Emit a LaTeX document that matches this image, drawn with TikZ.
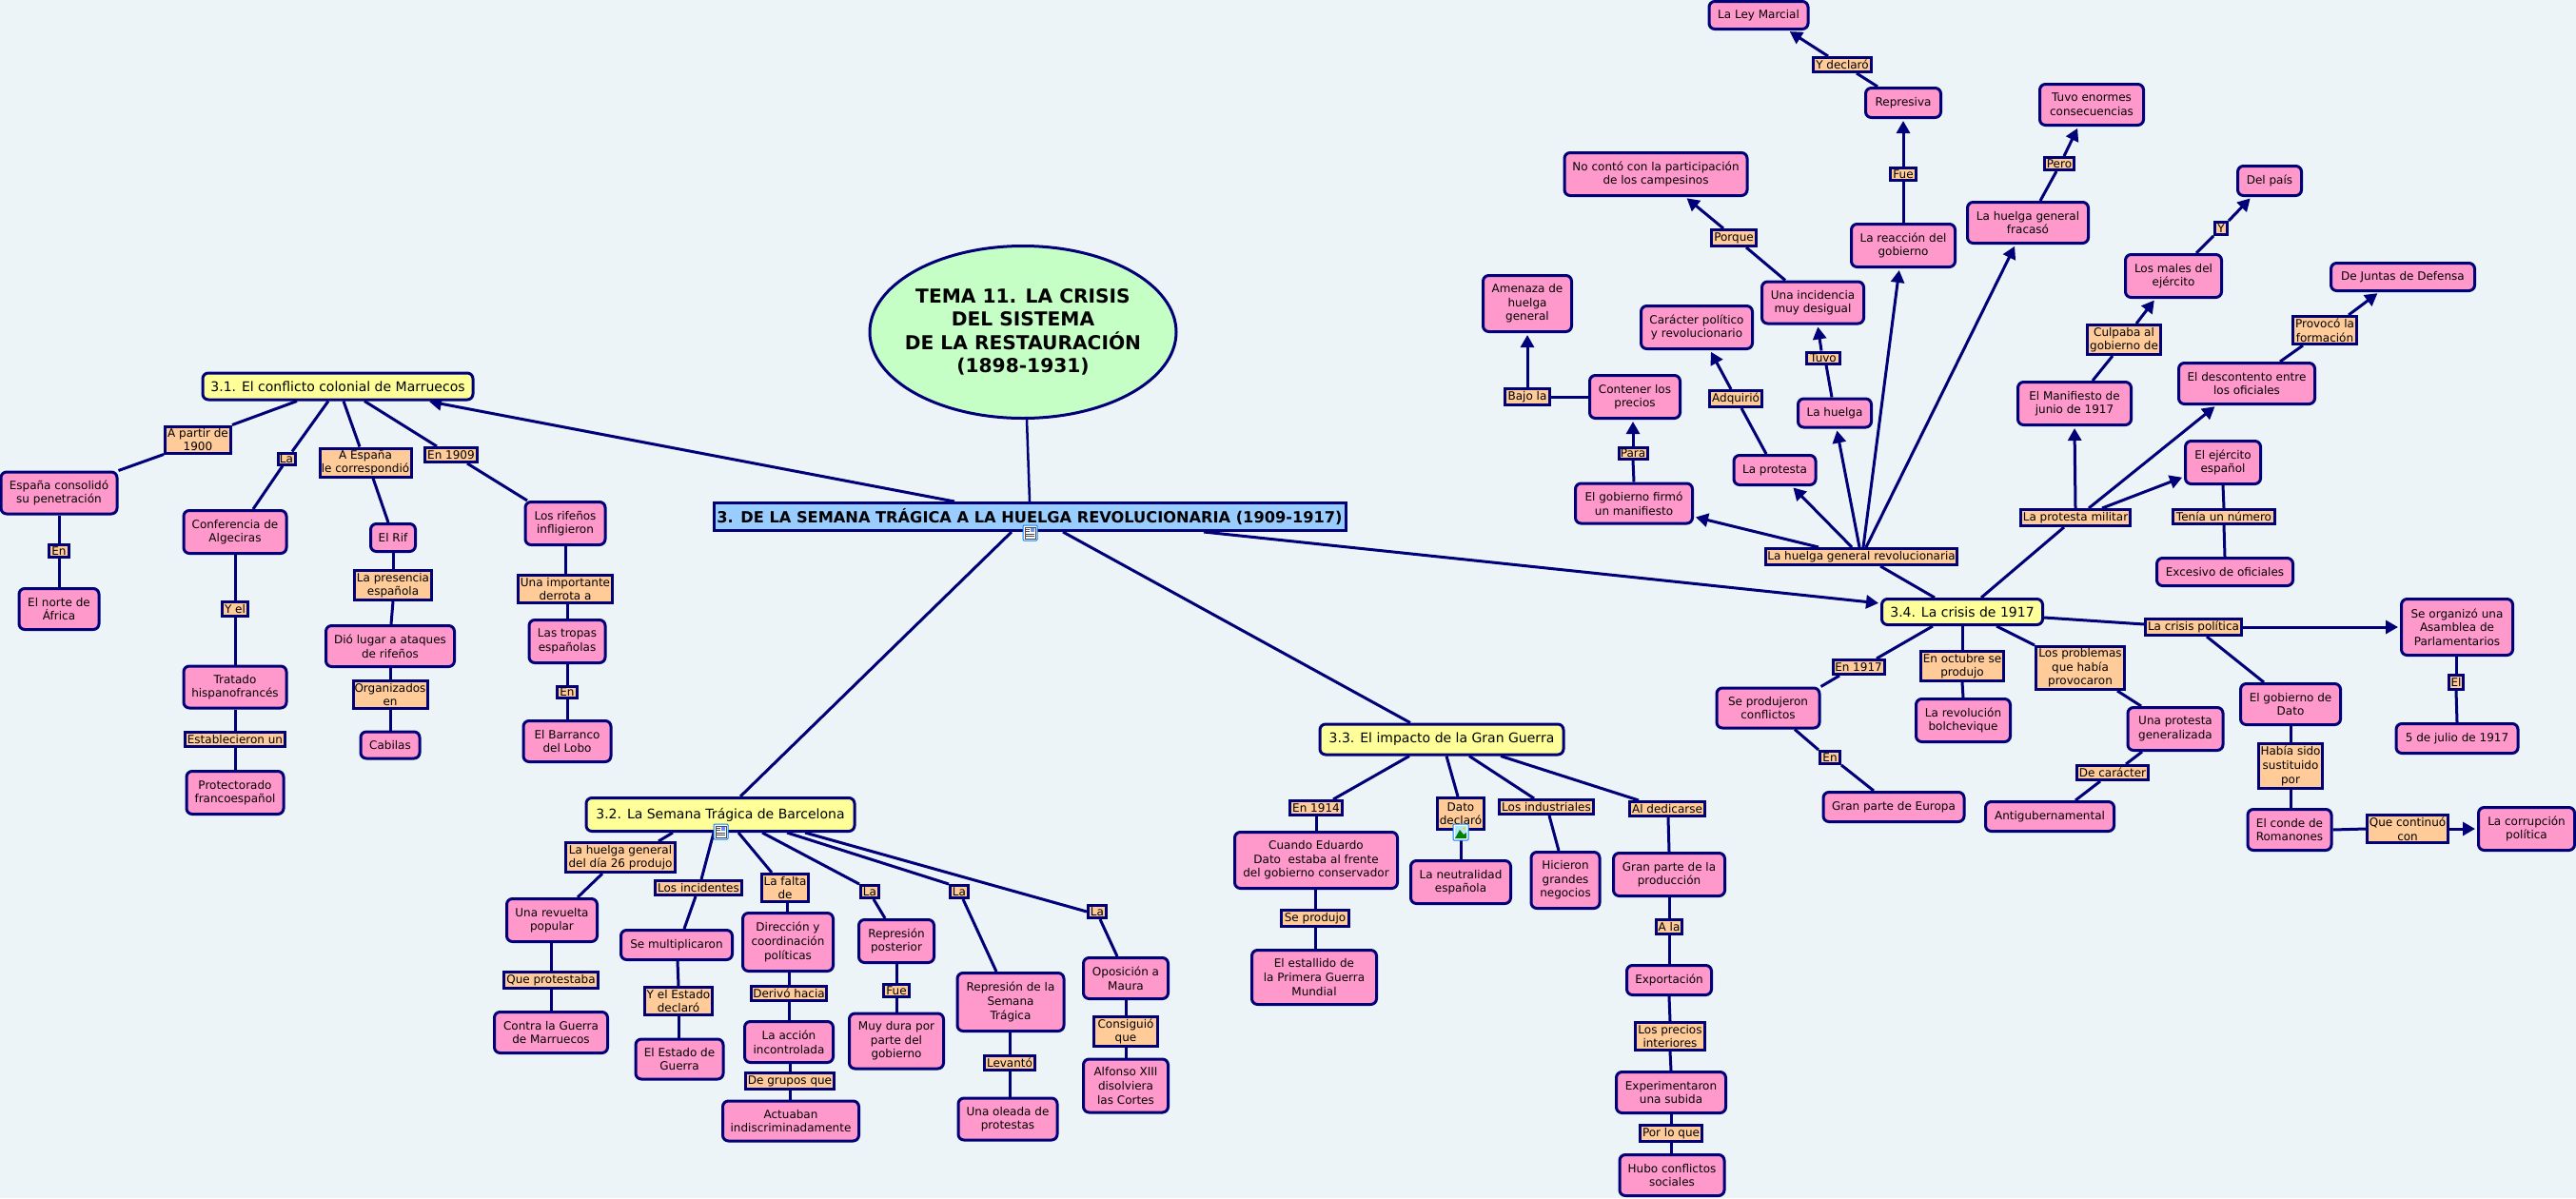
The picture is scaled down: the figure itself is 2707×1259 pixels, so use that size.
\documentclass[tikz,border=0pt]{standalone}
\usepackage{fontspec}
\setmainfont{DejaVu Sans}
\usetikzlibrary{arrows.meta,shapes.geometric,backgrounds}
\definecolor{nv}{HTML}{000078}
\definecolor{bgc}{HTML}{EDF4F8}
\definecolor{pk}{HTML}{FF99CC}
\definecolor{og}{HTML}{FFCC99}
\definecolor{yl}{HTML}{FFFF99}
\definecolor{gn}{HTML}{C6FFC6}
\definecolor{bl}{HTML}{99CCFF}
\tikzset{
 sz/.style 2 args={minimum width={(#1-3)*1pt},minimum height={(#2-3)*1pt}},
 base/.style={draw=nv,line width=3pt,inner sep=0pt,align=center,text=black},
 pkn/.style={base,rectangle,rounded corners=6pt,fill=pk,font=\fontsize{12pt}{14.6pt}\selectfont},
 ogn/.style={base,rectangle,fill=og,font=\fontsize{12pt}{14.6pt}\selectfont},
 yln/.style={base,rectangle,rounded corners=6pt,fill=yl,font=\fontsize{14pt}{17pt}\selectfont},
 lk/.style={draw=nv,line width=3pt},
 ar/.style={lk,-{Triangle[length=13pt,width=14pt]},shorten >=2pt},
 icon/.style={draw=blue!50!cyan,line width=1pt,fill=white,rounded corners=1pt},
}
\begin{document}
\begin{tikzpicture}[x=1pt,y=-1pt]
\useasboundingbox (0,0) rectangle (2707,1259);
\begin{pgfonlayer}{background}
\fill[bgc] (0,0) rectangle (2707,1259);
\end{pgfonlayer}
% root
\node[base,ellipse,fill=gn,line width=3pt,inner sep=-20pt,minimum width=322pt,minimum height=181pt,font=\bfseries\fontsize{20.2pt}{24.4pt}\selectfont] (root) at (1075,349) {TEMA 11. LA CRISIS\\DEL SISTEMA\\DE LA RESTAURACIÓN\\(1898-1931)};
\node[base,rectangle,fill=bl,font=\bfseries\fontsize{16.2pt}{19pt}\selectfont,sz={667}{32}] (main) at (1082,543) {3. DE LA SEMANA TRÁGICA A LA HUELGA REVOLUCIONARIA (1909-1917)};
% 3.1
\node[yln,sz={287}{31}] (s31) at (355,406) {3.1. El conflicto colonial de Marruecos};
\node[ogn,sz={72}{31}] (ap) at (208,462) {A partir de\\1900};
\node[pkn,sz={125}{47}] (esp) at (62,518) {España consolidó\\su penetración};
\node[ogn,sz={21}{15}] (la0) at (301,482) {La};
\node[ogn,sz={99}{33}] (aes) at (384,486) {A España\\le correspondió};
\node[ogn,sz={58}{18}] (en09) at (474,478) {En 1909};
\node[pkn,sz={111}{48}] (conf) at (247,559) {Conferencia de\\Algeciras};
\node[pkn,sz={50}{32}] (rif) at (413,565) {El Rif};
\node[pkn,sz={87}{48}] (rifen) at (594,550) {Los rifeños\\infligieron};
\node[ogn,sz={24}{16}] (en1) at (62,579) {En};
\node[pkn,sz={87}{46}] (norte) at (62,640) {El norte de\\África};
\node[ogn,sz={84}{34}] (pres) at (413,615) {La presencia\\española};
\node[ogn,sz={102}{32}] (uimp) at (594,619) {Una importante\\derrota a};
\node[ogn,sz={30}{18}] (yel) at (247,640) {Y el};
\node[pkn,sz={83}{48}] (trop) at (596,674) {Las tropas\\españolas};
\node[pkn,sz={138}{46}] (dio) at (410,679) {Dió lugar a ataques\\de rifeños};
\node[pkn,sz={111}{47}] (trat) at (247,722) {Tratado\\hispanofrancés};
\node[ogn,sz={81}{32}] (org) at (410,730) {Organizados\\en};
\node[ogn,sz={24}{15}] (en2) at (596,727) {En};
\node[pkn,sz={65}{31}] (cab) at (410,783) {Cabilas};
\node[pkn,sz={95}{46}] (barr) at (596,779) {El Barranco\\del Lobo};
\node[ogn,sz={108}{18}] (est) at (247,777) {Establecieron un};
\node[pkn,sz={105}{48}] (prot) at (247,833) {Protectorado\\francoespañol};
% 3.2
\node[yln,sz={285}{38}] (s32) at (757,856) {3.2. La Semana Trágica de Barcelona};
\node[ogn,sz={118}{34}] (lh26) at (652,901) {La huelga general\\del día 26 produjo};
\node[ogn,sz={94}{18}] (inc) at (734,933) {Los incidentes};
\node[ogn,sz={52}{32}] (falta) at (825,933) {La falta\\de};
\node[ogn,sz={22}{16}] (la1) at (914,937) {La};
\node[ogn,sz={22}{16}] (la2) at (1008,937) {La};
\node[ogn,sz={22}{16}] (la3) at (1153,958) {La};
\node[pkn,sz={98}{48}] (rev) at (580,967) {Una revuelta\\popular};
\node[pkn,sz={120}{34}] (mult) at (711,993) {Se multiplicaron};
\node[pkn,sz={98}{64}] (dir) at (828,990) {Dirección y\\coordinación\\políticas};
\node[pkn,sz={82}{48}] (repp) at (942,989) {Represión\\posterior};
\node[pkn,sz={92}{46}] (opo) at (1183,1028) {Oposición a\\Maura};
\node[pkn,sz={115}{64}] (rst) at (1062,1053) {Represión de la\\Semana\\Trágica};
\node[ogn,sz={102}{20}] (qpr) at (579,1030) {Que protestaba};
\node[ogn,sz={82}{18}] (der) at (829,1044) {Derivó hacia};
\node[ogn,sz={74}{32}] (yest) at (713,1052) {Y el Estado\\declaró};
\node[ogn,sz={30}{16}] (fue1) at (942,1041) {Fue};
\node[pkn,sz={122}{46}] (contra) at (579,1085) {Contra la Guerra\\de Marruecos};
\node[pkn,sz={96}{46}] (acc) at (829,1095) {La acción\\incontrolada};
\node[pkn,sz={102}{61}] (muy) at (942,1094) {Muy dura por\\parte del\\gobierno};
\node[ogn,sz={70}{34}] (cons) at (1183,1084) {Consiguió\\que};
\node[ogn,sz={56}{18}] (lev) at (1061,1117) {Levantó};
\node[pkn,sz={95}{45}] (edg) at (714,1113) {El Estado de\\Guerra};
\node[ogn,sz={96}{20}] (dgq) at (830,1136) {De grupos que};
\node[pkn,sz={92}{59}] (alf) at (1183,1141) {Alfonso XIII\\disolviera\\las Cortes};
\node[pkn,sz={146}{45}] (act) at (831,1178) {Actuaban\\indiscriminadamente};
\node[pkn,sz={107}{47}] (ola) at (1059,1176) {Una oleada de\\protestas};
% 3.3
\node[yln,sz={259}{35}] (s33) at (1515,777) {3.3. El impacto de la Gran Guerra};
\node[ogn,sz={58}{18}] (en14) at (1383,849) {En 1914};
\node[ogn,sz={52}{36}] (dato) at (1535,855) {Dato\\declaró};
\node[ogn,sz={102}{18}] (ind) at (1625,848) {Los industriales};
\node[ogn,sz={82}{18}] (aldd) at (1752,850) {Al dedicarse};
\node[pkn,sz={174}{62}] (cuan) at (1383,904) {Cuando Eduardo\\Dato\ \ estaba al frente\\del gobierno conservador};
\node[pkn,sz={108}{48}] (neut) at (1535,927) {La neutralidad\\española};
\node[pkn,sz={75}{62}] (hic) at (1645,925) {Hicieron\\grandes\\negocios};
\node[pkn,sz={120}{48}] (gpp) at (1754,919) {Gran parte de la\\producción};
\node[ogn,sz={74}{20}] (sepr) at (1382,965) {Se produjo};
\node[ogn,sz={30}{18}] (ala) at (1754,974) {A la};
\node[pkn,sz={134}{60}] (esta) at (1381,1027) {El estallido de\\la Primera Guerra\\Mundial};
\node[pkn,sz={92}{34}] (expo) at (1754,1030) {Exportación};
\node[ogn,sz={76}{32}] (prec) at (1755,1089) {Los precios\\interiores};
\node[pkn,sz={118}{46}] (expe) at (1756,1148) {Experimentaron\\una subida};
\node[ogn,sz={68}{20}] (plq) at (1756,1191) {Por lo que};
\node[pkn,sz={113}{46}] (hubo) at (1757,1235) {Hubo conflictos\\sociales};
% huelga general
\node[pkn,sz={107}{32}] (ley) at (1848,16) {La Ley Marcial};
\node[ogn,sz={64}{18}] (ydec) at (1936,68) {Y declaró};
\node[pkn,sz={82}{34}] (repv) at (2000,108) {Represiva};
\node[ogn,sz={30}{16}] (fue2) at (2000,183) {Fue};
\node[pkn,sz={195}{48}] (noc) at (1740,183) {No contó con la participación\\de los campesinos};
\node[pkn,sz={112}{48}] (reac) at (2000,258) {La reacción del\\gobierno};
\node[ogn,sz={50}{20}] (porq) at (1822,250) {Porque};
\node[pkn,sz={110}{47}] (ince) at (1905,318) {Una incidencia\\muy desigual};
\node[pkn,sz={96}{62}] (amen) at (1605,319) {Amenaza de\\huelga\\general};
\node[pkn,sz={120}{48}] (cara) at (1783,344) {Carácter político\\y revolucionario};
\node[ogn,sz={38}{15}] (tuvo) at (1916,376) {Tuvo};
\node[ogn,sz={50}{20}] (bajo) at (1605,417) {Bajo la};
\node[pkn,sz={98}{48}] (cont) at (1718,417) {Contener los\\precios};
\node[ogn,sz={58}{20}] (adq) at (1824,419) {Adquirió};
\node[pkn,sz={80}{33}] (hue) at (1928,434) {La huelga};
\node[ogn,sz={33}{15}] (para) at (1716,476) {Para};
\node[pkn,sz={89}{34}] (prt) at (1865,494) {La protesta};
\node[pkn,sz={126}{45}] (firm) at (1717,529) {El gobierno firmó\\un manifiesto};
\node[ogn,sz={204}{20}] (lhg) at (1956,585) {La huelga general revolucionaria};
% protesta militar
\node[pkn,sz={112}{46}] (tenor) at (2198,110) {Tuvo enormes\\consecuencias};
\node[ogn,sz={34}{16}] (pero) at (2164,172) {Pero};
\node[pkn,sz={70}{34}] (dpa) at (2385,190) {Del país};
\node[pkn,sz={130}{46}] (frac) at (2131,234) {La huelga general\\fracasó};
\node[ogn,sz={16}{16}] (yy) at (2334,240) {Y};
\node[pkn,sz={104}{48}] (mal) at (2284,290) {Los males del\\ejército};
\node[pkn,sz={154}{32}] (junt) at (2525,291) {De Juntas de Defensa};
\node[ogn,sz={70}{32}] (prov) at (2443,347) {Provocó la\\formación};
\node[ogn,sz={80}{34}] (culp) at (2232,357) {Culpaba al\\gobierno de};
\node[pkn,sz={146}{46}] (desc) at (2361,403) {El descontento entre\\los oficiales};
\node[pkn,sz={122}{48}] (mani) at (2180,424) {El Manifiesto de\\junio de 1917};
\node[pkn,sz={82}{48}] (ejer) at (2336,486) {El ejército\\español};
\node[ogn,sz={118}{20}] (lpm) at (2181,544) {La protesta militar};
\node[ogn,sz={110}{18}] (ten) at (2337,543) {Tenía un número};
\node[pkn,sz={146}{32}] (exce) at (2338,601) {Excesivo de oficiales};
% 3.4
\node[yln,sz={172}{30}] (s34) at (2062,643) {3.4. La crisis de 1917};
\node[ogn,sz={104}{20}] (cpo) at (2305,659) {La crisis política};
\node[pkn,sz={120}{62}] (sorg) at (2582,659) {Se organizó una\\Asamblea de\\Parlamentarios};
\node[ogn,sz={57}{18}] (en17) at (1953,701) {En 1917};
\node[ogn,sz={90}{34}] (oct) at (2062,700) {En octubre se\\produjo};
\node[ogn,sz={96}{48}] (lpro) at (2186,702) {Los problemas\\que había\\provocaron};
\node[pkn,sz={111}{45}] (spc) at (1858,744) {Se produjeron\\conflictos};
\node[pkn,sz={102}{48}] (bol) at (2063,757) {La revolución\\bolchevique};
\node[pkn,sz={103}{48}] (upg) at (2286,766) {Una protesta\\generalizada};
\node[pkn,sz={108}{46}] (gdat) at (2407,740) {El gobierno de\\Dato};
\node[ogn,sz={18}{18}] (elx) at (2581,717) {El};
\node[pkn,sz={131}{34}] (jul) at (2582,776) {5 de julio de 1917};
\node[ogn,sz={24}{16}] (en3) at (1923,796) {En};
\node[ogn,sz={70}{50}] (hab) at (2407,805) {Había sido\\sustituido\\por};
\node[ogn,sz={78}{18}] (dcar) at (2220,812) {De carácter};
\node[pkn,sz={151}{34}] (geu) at (1990,848) {Gran parte de Europa};
\node[pkn,sz={138}{34}] (anti) at (2154,858) {Antigubernamental};
\node[pkn,sz={91}{46}] (rom) at (2406,872) {El conde de\\Romanones};
\node[ogn,sz={88}{32}] (qcon) at (2530,871) {Que continuó\\con};
\node[pkn,sz={104}{48}] (corr) at (2655,871) {La corrupción\\política};
% icons
\draw[icon] (1075,552) rectangle (1090,568);
\draw[fill=white,draw=black!70,line width=.7pt] (1077,554) rectangle (1088,566);
\fill[bl!70!blue] (1083,555) rectangle (1087,559);
\draw[black!70,line width=.7pt] (1078,561) -- (1087,561) (1078,563) -- (1087,563) (1078,556) -- (1082,556) (1078,558) -- (1082,558);
\draw[icon] (750,866) rectangle (765,882);
\draw[fill=white,draw=black!70,line width=.7pt] (752,868) rectangle (763,880);
\fill[bl!70!blue] (758,869) rectangle (762,873);
\draw[black!70,line width=.7pt] (753,875) -- (762,875) (753,877) -- (762,877) (753,870) -- (757,870) (753,872) -- (757,872);
\draw[icon] (1527,866) rectangle (1543,883);
\fill[white!70!cyan] (1529,868) rectangle (1541,881);
\fill[green!50!black] (1529,881) -- (1534,872) -- (1538,877) -- (1541,875) -- (1541,881) -- cycle;
\fill[yellow!80!orange] (1538.5,870.5) circle (1.5);
% connectors
\begin{pgfonlayer}{background}
\draw[lk,line width=2.5pt] ([xshift=4pt]root.south) -- (main.north);
\draw[ar] ([xshift=-79pt]main.north) -- ([xshift=94pt]s31.south);
\draw[lk] ([xshift=-19pt]main.south) -- ([xshift=21pt]s32.north);
\draw[lk] ([xshift=35pt]main.south) -- ([xshift=-33pt]s33.north);
\draw[ar] ([xshift=183pt]main.south) -- ([yshift=9pt]s34.west);
% 3.1
\draw[lk] ([xshift=-43pt]s31.south) -- (ap.north east);
\draw[lk] (ap.south west) -- (esp.north east);
\draw[lk] ([xshift=-10pt]s31.south) -- ([xshift=6pt]la0.north);
\draw[lk] ([xshift=-4pt]la0.south) -- ([xshift=19pt]conf.north);
\draw[lk] ([xshift=6pt]s31.south) -- ([xshift=-6pt]aes.north);
\draw[lk] ([xshift=8pt]aes.south) -- ([xshift=-5pt]rif.north);
\draw[lk] ([xshift=28pt]s31.south) -- ([xshift=-15pt]en09.north);
\draw[lk] ([xshift=17pt]en09.south) -- ([xshift=-40pt]rifen.north);
\draw[lk] (esp.south) -- (en1.north);
\draw[lk] (en1.south) -- (norte.north);
\draw[lk] (conf.south) -- (yel.north);
\draw[lk] (yel.south) -- (trat.north);
\draw[lk] (trat.south) -- (est.north);
\draw[lk] (est.south) -- (prot.north);
\draw[lk] (rif.south) -- (pres.north);
\draw[lk] (pres.south) -- ([xshift=1pt]dio.north);
\draw[lk] (dio.south) -- (org.north);
\draw[lk] (org.south) -- (cab.north);
\draw[lk] (rifen.south) -- (uimp.north);
\draw[lk] ([xshift=2pt]uimp.south) -- (trop.north);
\draw[lk] (trop.south) -- (en2.north);
\draw[lk] (en2.south) -- (barr.north);
% 3.2
\draw[lk] ([xshift=-50pt]s32.south) -- ([xshift=40pt]lh26.north);
\draw[lk] ([xshift=-19pt]lh26.south) -- ([xshift=27pt]rev.north);
\draw[lk] ([xshift=-7pt]s32.south) -- ([xshift=3pt]inc.north);
\draw[lk] ([xshift=-3pt]inc.south) -- ([xshift=8pt]mult.north);
\draw[lk] ([xshift=19pt]s32.south) -- ([xshift=-14pt]falta.north);
\draw[lk] ([xshift=2pt]falta.south) -- ([xshift=-1pt]dir.north);
\draw[lk] ([xshift=44pt]s32.south) -- (la1.north west);
\draw[lk] ([xshift=4pt]la1.south) -- ([xshift=-12pt]repp.north);
\draw[lk] ([xshift=70pt]s32.south) -- (la2.north west);
\draw[lk] ([xshift=4pt]la2.south) -- ([xshift=-15pt]rst.north);
\draw[lk] ([xshift=89pt]s32.south) -- (la3.west);
\draw[lk] ([xshift=3pt]la3.south) -- ([xshift=-9pt]opo.north);
\draw[lk] ([xshift=-1pt]rev.south) -- (qpr.north);
\draw[lk] (qpr.south) -- (contra.north);
\draw[lk] ([xshift=1pt]mult.south) -- (yest.north);
\draw[lk] (yest.south) -- ([xshift=-1pt]edg.north);
\draw[lk] ([xshift=1pt]dir.south) -- (der.north);
\draw[lk] (der.south) -- (acc.north);
\draw[lk] ([xshift=1pt]acc.south) -- (dgq.north);
\draw[lk] (dgq.south) -- ([xshift=-1pt]act.north);
\draw[lk] (repp.south) -- (fue1.north);
\draw[lk] (fue1.south) -- (muy.north);
\draw[lk] ([xshift=-1pt]rst.south) -- (lev.north);
\draw[lk] (lev.south) -- ([xshift=2pt]ola.north);
\draw[lk] (opo.south) -- (cons.north);
\draw[lk] (cons.south) -- (alf.north);
% 3.3
\draw[lk] ([xshift=-34pt]s33.south) -- ([xshift=18pt]en14.north);
\draw[lk] ([xshift=5pt]s33.south) -- ([xshift=-3pt]dato.north);
\draw[lk] ([xshift=29pt]s33.south) -- ([xshift=-13pt]ind.north);
\draw[lk] ([xshift=62pt]s33.south) -- ([xshift=-30pt]aldd.north);
\draw[lk] (en14.south) -- (cuan.north);
\draw[lk] (dato.south) -- (neut.north);
\draw[lk] ([xshift=3pt]ind.south) -- ([xshift=-7pt]hic.north);
\draw[lk] ([xshift=1pt]aldd.south) -- (gpp.north);
\draw[lk] ([xshift=-1pt]cuan.south) -- (sepr.north);
\draw[lk] (sepr.south) -- ([xshift=1pt]esta.north);
\draw[lk] (gpp.south) -- (ala.north);
\draw[lk] (ala.south) -- (expo.north);
\draw[lk] (expo.south) -- (prec.north);
\draw[lk] (prec.south) -- (expe.north);
\draw[lk] (expe.south) -- (plq.north);
\draw[lk] (plq.south) -- ([xshift=-1pt]hubo.north);
% huelga general
\draw[ar] ([xshift=-45pt]lhg.north) -- ([yshift=-14pt]firm.east);
\draw[ar] ([xshift=-10pt]lhg.north) -- ([xshift=18pt]prt.south);
\draw[ar] ([xshift=-2pt]lhg.north) -- ([xshift=2pt]hue.south);
\draw[ar] ([xshift=2pt]lhg.north) -- ([xshift=-4pt]reac.south);
\draw[ar] ([xshift=5pt]lhg.north) -- ([xshift=-13pt]frac.south);
\draw[lk] ([xshift=20pt]lhg.south) -- ([xshift=-29pt]s34.north);
\draw[lk] (firm.north) -- (para.south);
\draw[ar] (para.north) -- ([xshift=-2pt]cont.south);
\draw[lk] (cont.west) -- (bajo.east);
\draw[ar] (bajo.north) -- (amen.south);
\draw[lk] ([xshift=-9pt]prt.north) -- ([xshift=6pt]adq.south);
\draw[ar] ([xshift=-5pt]adq.north) -- ([xshift=14pt]cara.south);
\draw[lk] ([xshift=-3pt]hue.north) -- ([xshift=3pt]tuvo.south);
\draw[ar] ([xshift=-2pt]tuvo.north) -- ([xshift=5pt]ince.south);
\draw[lk] ([xshift=-29pt]ince.north) -- ([xshift=13pt]porq.south);
\draw[ar] ([xshift=-11pt]porq.north) -- ([xshift=31pt]noc.south);
\draw[lk] (reac.north) -- (fue2.south);
\draw[ar] (fue2.north) -- (repv.south);
\draw[lk] ([xshift=-27pt]repv.north) -- ([xshift=15pt]ydec.south);
\draw[ar] ([xshift=-15pt]ydec.north) -- ([xshift=31pt]ley.south);
% protesta militar
\draw[lk] ([xshift=-12pt]lpm.south) -- ([xshift=20pt]s34.north);
\draw[ar] (lpm.north) -- (mani.south);
\draw[ar] ([xshift=14pt]lpm.north) -- ([xshift=-32pt]desc.south);
\draw[ar] ([xshift=28pt]lpm.north) -- ([yshift=-15pt]ejer.west);
\draw[lk] ([xshift=19pt]mani.north) -- ([xshift=-12pt]culp.south);
\draw[ar] ([xshift=13pt]culp.north) -- ([xshift=-19pt]mal.south);
\draw[lk] ([xshift=24pt]mal.north) -- (yy.south west);
\draw[ar] (yy.north east) -- ([xshift=-19pt]dpa.south);
\draw[lk] ([xshift=35pt]desc.north) -- ([xshift=-23pt]prov.south);
\draw[ar] ([xshift=25pt]prov.north) -- ([xshift=-25pt]junt.south);
\draw[lk] ([xshift=13pt]frac.north) -- ([xshift=-3pt]pero.south);
\draw[ar] ([xshift=5pt]pero.north) -- ([xshift=-14pt]tenor.south);
\draw[lk] (ejer.south) -- (ten.north);
\draw[lk] (ten.south) -- (exce.north);
% 3.4
\draw[lk] ([xshift=-31pt]s34.south) -- ([xshift=19pt]en17.north);
\draw[lk] ([xshift=-20pt]en17.south) -- (spc.north east);
\draw[lk] (s34.south) -- (oct.north);
\draw[lk] (oct.south) -- (bol.north);
\draw[lk] ([xshift=36pt]s34.south) -- (lpro.north west);
\draw[lk] ([xshift=39pt]lpro.south) -- ([xshift=-36pt]upg.north);
\draw[lk] ([xshift=-35pt]upg.south) -- ([xshift=14pt]dcar.north);
\draw[lk] ([xshift=-13pt]dcar.south) -- ([xshift=27pt]anti.north);
\draw[lk] ([xshift=28pt]spc.south) -- (en3.north west);
\draw[lk] (en3.south east) -- ([xshift=-21pt]geu.north);
\draw[lk] ([yshift=-6pt]s34.east) -- ([yshift=3pt]cpo.west);
\draw[ar] (cpo.east) -- (sorg.west);
\draw[lk] ([xshift=14pt]cpo.south) -- ([xshift=-28pt]gdat.north);
\draw[lk] (gdat.south) -- (hab.north);
\draw[lk] (hab.south) -- ([xshift=1pt]rom.north);
\draw[lk] (rom.east) -- (qcon.west);
\draw[ar] (qcon.east) -- (corr.west);
\draw[lk] ([xshift=-1pt]sorg.south) -- (elx.north);
\draw[lk] (elx.south) -- (jul.north);
\end{pgfonlayer}
\end{tikzpicture}
\end{document}
